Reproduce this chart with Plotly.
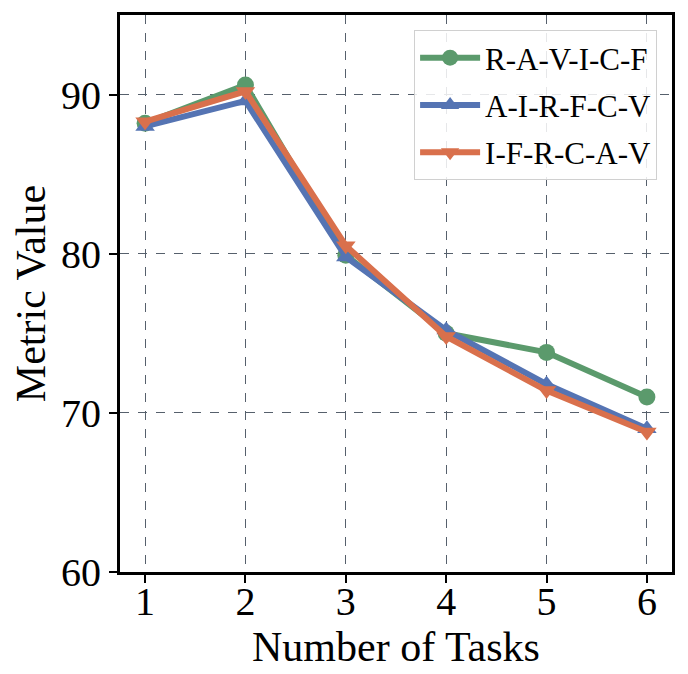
import plotly.graph_objects as go

# ------------ data ------------
tasks = [1, 2, 3, 4, 5, 6]
series_names = ["R-A-V-I-C-F", "A-I-R-F-C-V", "I-F-R-C-A-V"]
ravicf = [88.2, 90.6, 79.9, 75.0, 73.8, 71.0]
airfcv = [88.0, 89.6, 79.8, 75.2, 71.8, 69.0]
ifrcav = [88.3, 90.2, 80.5, 74.8, 71.4, 68.8]

colors = ["#5b9a6c", "#5574b3", "#d9704c"]
symbols = ["circle", "triangle-up", "triangle-down"]

fig = go.Figure()
for name, vals, c, s in zip(series_names, [ravicf, airfcv, ifrcav], colors, symbols):
    fig.add_trace(go.Scatter(
        x=tasks, y=vals, mode="lines+markers", name=name, legendgroup=name,
        line=dict(color=c, width=6),
        marker=dict(symbol=s, size=17, color=c),
    ))

axis_common = dict(
    showline=True, linecolor="black", linewidth=3, mirror=True,
    showgrid=True, gridcolor="#56606c", gridwidth=1.4, griddash="dash",
    ticks="outside", ticklen=8, tickwidth=2, tickcolor="black",
    zeroline=False, automargin=False,
    tickfont=dict(family="Liberation Serif", size=40, color="black"),
)

fig.update_xaxes(
    range=[0.75, 6.25], tickvals=tasks, ticklabelstandoff=-16,
    title=dict(text="Number of Tasks", font=dict(family="Liberation Serif", size=42, color="black"), standoff=4),
    **axis_common,
)
fig.update_yaxes(
    range=[60, 95], tickvals=[60, 70, 80, 90],
    title=dict(text="Metric Value", font=dict(family="Liberation Serif", size=42, color="black"), standoff=10),
    **axis_common,
)

# page body adds ~8px offset, so the figure is a bit smaller than the window
fig.update_layout(
    width=680, height=666,
    margin=dict(l=112, r=16, t=7, b=102),
    plot_bgcolor="white", paper_bgcolor="white",
    legend=dict(
        x=0.973, y=0.973, xanchor="right", yanchor="top",
        font=dict(family="Liberation Serif", size=31, color="black"),
        bgcolor="rgba(255,255,255,0.85)", bordercolor="#d0d0d0", borderwidth=1,
        itemwidth=60, tracegroupgap=4,
    ),
)

fig.write_html("out.html")
